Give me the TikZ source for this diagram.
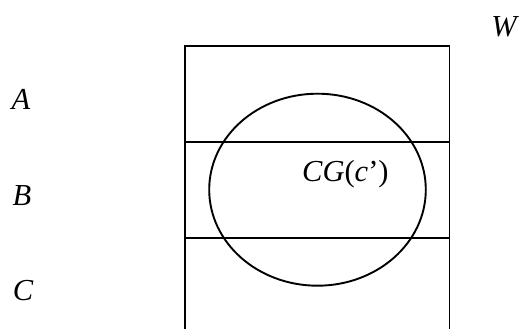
\documentclass[tikz,border=0pt]{standalone}
\usepackage{fontspec}
\setmainfont{Liberation Serif}
\begin{document}
\begin{tikzpicture}[x=1pt,y=-1pt,
  lbl/.style={inner sep=0pt,font=\fontsize{30.5}{34}\selectfont\itshape},
  ln/.style={line width=1.9pt}]
\useasboundingbox (0,0) rectangle (520,329);
\coordinate (tl) at (185,45.7);
\coordinate (tr) at (449.5,45.7);
\coordinate (bl) at (185,335);
\coordinate (br) at (449.5,335);
\coordinate (m1l) at (185,141.7);
\coordinate (m1r) at (449.5,141.7);
\coordinate (m2l) at (185,237.7);
\coordinate (m2r) at (449.5,237.7);
\draw[ln] (bl) -- (tl) -- (tr) -- (br);
\draw[ln] (m1l) -- (m1r);
\draw[ln] (m2l) -- (m2r);
\draw[ln] (317.5,189.7) ellipse [x radius=108.3pt, y radius=96pt];
\node[lbl] (W) at (504,26.5) {W};
\node[lbl] (A) at (21,99) {A};
\node[lbl] (B) at (22,195.5) {B};
\node[lbl] (C) at (23,291) {C};
\node[lbl,anchor=base west] (CG) at (302,181) {CG\upshape(\itshape c\upshape’)};
\end{tikzpicture}
\end{document}
